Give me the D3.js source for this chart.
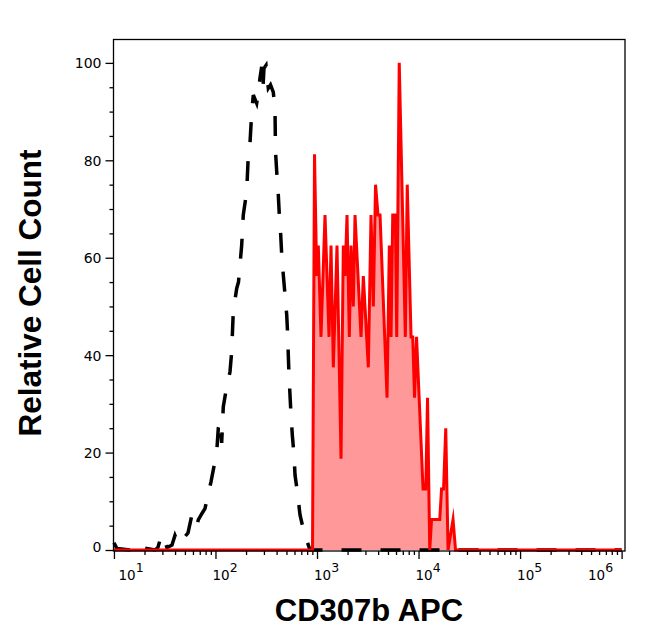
<!DOCTYPE html>
<html><head><meta charset="utf-8">
<script src="https://cdn.jsdelivr.net/npm/d3@7"></script>
<style>body{margin:0;background:#fff}</style>
</head><body>
<svg id="c" width="646" height="641"></svg>
<script>
// Isotype control (black dashed) histogram: intensity vs relative count
const controlX = [10, 10.7, 14.4, 16.9, 18.0, 19.3, 21.1, 25.3, 27.1, 28.4, 29.7, 31.1, 33.3, 37.3, 39.9, 42.7, 45.7, 48.9, 53.6, 58.3, 61.4, 65.3, 67.7, 73.6, 78.8, 85.0, 90.3, 95.1, 102.8, 106.6, 110.7, 115.1, 119.4, 128.9, 134.3, 139.0, 144.4, 149.8, 161.8, 168.5, 174.3, 181.2, 187.9, 203.0, 210.5, 218.7, 227.3, 235.8, 254.6, 265.2, 274.4, 285.2, 293.8, 300.5, 314.5, 331.4, 348.3, 371.1, 385.7, 390.1, 400.9, 415.7, 425.3, 439.0, 449.1, 465.6, 483.9, 502.9, 514.5, 521.5, 529.9, 542.0, 554.5, 571.2, 593.6, 607.3, 639.8, 680.3, 719.7, 761.8, 806.3, 853.1, 1000000];
const controlY = [1.5, 0.3, 0, 0.3, 1.2, 0.5, 0.3, 0, 0.5, 2, 1, 2.2, 0.5, 1, 3, 1.5, 1.2, 2.5, 3.5, 7, 5, 4.8, 6.2, 7.5, 8.5, 11.6, 14, 16.4, 20, 25, 26.5, 22, 29.4, 33.5, 35, 36.6, 40.7, 49, 53.7, 55, 58.5, 62.6, 68.8, 73.6, 81, 83.5, 89.7, 93.4, 91.7, 94, 96.9, 99.2, 95, 98.9, 99.5, 94.8, 95.5, 94, 90.4, 81.8, 77.7, 72.9, 68.8, 64.7, 60.6, 56.5, 52.4, 48.3, 44.1, 40, 35.9, 31.8, 27.7, 23.6, 19.5, 15.4, 12, 7.2, 5, 3.8, 1.5, 0, 0];

// CD307b APC stained sample (red filled) histogram
const stainedX = [10, 903, 945, 993, 1030, 1095, 1199, 1313, 1374, 1448, 1574, 1724, 1816, 1888, 1975, 2081, 2163, 2278, 2368, 2713, 2859, 3202, 3404, 3587, 3771, 3990, 4176, 4894, 5156, 5360, 5570, 5907, 6098, 6455, 7413, 7740, 8436, 8768, 9134, 9557, 11075, 11774, 12265, 12891, 13430, 16178, 16850, 17633, 18535, 19523, 21865, 23143, 1000000];
const stainedY = [0, 0, 81.25, 56.25, 62.5, 43.75, 68.75, 43.75, 62.5, 37.5, 62.5, 18.75, 62.5, 56.25, 68.75, 43.75, 62.5, 50, 68.75, 43.75, 56.25, 37.5, 68.75, 50, 75, 68.75, 68.75, 31.25, 62.5, 43.75, 68.75, 68.75, 43.75, 100, 43.75, 75, 43.75, 43.75, 31.25, 43.75, 12.5, 12.5, 31.25, 0, 6.25, 6.25, 12.5, 12.5, 25, 0, 6.25, 0, 0];

const yMajorTicks = [0, 20, 40, 60, 80, 100];
const yMinorStep = 5;
const xExponents = [1, 2, 3, 4, 5, 6];
const xTitle = "CD307b APC";
const yTitle = "Relative Cell Count";

const L = 113.5, R = 625, T = 39.5, B = 551;
const svg = d3.select("#c");
const x = d3.scaleLog().domain([9.9, 1.08e6]).range([L, R]);
const y = d3.scaleLinear().domain([-0.205, 104.8]).range([B, T]);

const control = controlX.map((v, i) => [v, controlY[i]]);
const stained = stainedX.map((v, i) => [v, stainedY[i]]);

// red fill
svg.append("path")
  .attr("d", d3.area().x(d => x(d[0])).y0(y(0)).y1(d => y(d[1]))(stained))
  .attr("fill", "#ff0000").attr("fill-opacity", 0.4).attr("stroke", "none");

// black dashed control
svg.append("path")
  .attr("d", d3.line().x(d => x(d[0])).y(d => y(d[1]))(control))
  .attr("fill", "none").attr("stroke", "#000").attr("stroke-width", 3.5)
  .attr("stroke-dasharray", "20,19").attr("stroke-linejoin", "miter");

// red line
svg.append("path")
  .attr("d", d3.line().x(d => x(d[0])).y(d => y(d[1]))(stained))
  .attr("fill", "none").attr("stroke", "#ff0000").attr("stroke-width", 3)
  .attr("stroke-linejoin", "miter").attr("stroke-miterlimit", 10);

// frame
svg.append("rect").attr("x", L).attr("y", T).attr("width", R - L).attr("height", B - T)
  .attr("fill", "none").attr("stroke", "#000").attr("stroke-width", 1.3);

const font = "DejaVu Sans, sans-serif";

// Y axis
const yMinor = d3.range(0, 104.8, yMinorStep).filter(v => !yMajorTicks.includes(v));
const gyMinor = svg.append("g").attr("transform", `translate(${L},0)`)
  .call(d3.axisLeft(y).tickValues(yMinor).tickSize(4).tickFormat(""));
gyMinor.select(".domain").remove();
const gy = svg.append("g").attr("transform", `translate(${L},0)`)
  .call(d3.axisLeft(y).tickValues(yMajorTicks).tickSize(8).tickPadding(4).tickFormat(d3.format("d")));
gy.select(".domain").remove();
gy.selectAll("text").attr("font-family", font).attr("font-size", 14).attr("fill", "#000")
  .attr("dy", d => d === 0 ? "0.12em" : "0.35em");
svg.selectAll(".tick line").attr("stroke", "#000").attr("stroke-width", 1.3);

// X axis
const xMajor = xExponents.map(e => Math.pow(10, e));
const xMinor = [];
xExponents.forEach(e => { for (let k = 2; k <= 9; k++) { const v = k * Math.pow(10, e); if (v <= 1.08e6) xMinor.push(v); } });
const gxMinor = svg.append("g").attr("transform", `translate(0,${B})`)
  .call(d3.axisBottom(x).tickValues(xMinor).tickSize(4).tickFormat(""));
gxMinor.select(".domain").remove();
const gx = svg.append("g").attr("transform", `translate(0,${B})`)
  .call(d3.axisBottom(x).tickValues(xMajor).tickSize(8).tickFormat(""));
gx.select(".domain").remove();
svg.selectAll(".tick line").attr("stroke", "#000").attr("stroke-width", 1.3);

const labW = 26;
xExponents.forEach(e => {
  let lx = x(Math.pow(10, e)) - 3;
  lx = Math.max(lx, L + 5);
  lx = Math.min(lx, 614 - labW);
  const t = svg.append("text").attr("x", lx).attr("y", 580)
    .attr("font-family", font).attr("font-size", 13.5).attr("fill", "#000");
  t.append("tspan").text("10");
  t.append("tspan").attr("dy", -8).attr("font-size", 12.5).text(String(e));
});

// Titles
svg.append("text").attr("x", 369).attr("y", 621).attr("text-anchor", "middle")
  .attr("font-family", "Liberation Sans, Arial, sans-serif").attr("font-weight", "bold")
  .attr("font-size", 31).attr("fill", "#000").text(xTitle);
svg.append("text").attr("transform", "translate(41,293) rotate(-90)").attr("text-anchor", "middle")
  .attr("font-family", "Liberation Sans, Arial, sans-serif").attr("font-weight", "bold")
  .attr("font-size", 31.5).attr("fill", "#000").text(yTitle);
</script>
</body></html>
